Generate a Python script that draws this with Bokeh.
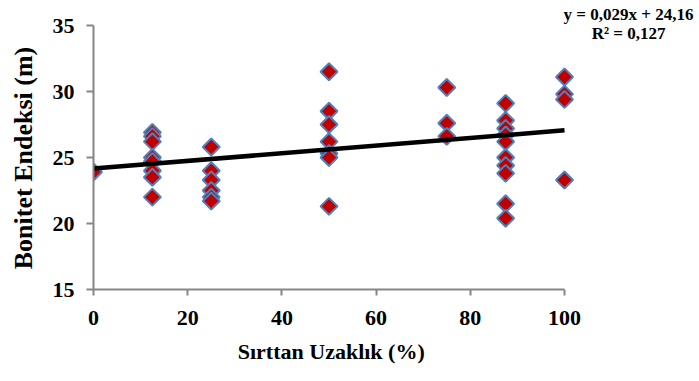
import numpy as np
from bokeh.plotting import figure
from bokeh.models import Range1d, FixedTicker
from bokeh.core.properties import value
from bokeh.embed import file_html
from bokeh.resources import INLINE

# Data
x_vals = [0,
          12.5, 12.5, 12.5, 12.5, 12.5, 12.5, 12.5, 12.5,
          25, 25, 25, 25, 25, 25,
          50, 50, 50, 50, 50, 50, 50,
          75, 75, 75,
          87.5, 87.5, 87.5, 87.5, 87.5, 87.5, 87.5, 87.5, 87.5, 87.5,
          100, 100, 100, 100]
y_vals = [23.9,
          26.9, 26.6, 26.2, 25.0, 24.7, 24.0, 23.5, 22.0,
          25.8, 24.0, 23.3, 22.5, 22.0, 21.7,
          31.5, 28.5, 27.5, 26.2, 25.3, 25.0, 21.3,
          30.3, 27.6, 26.6,
          29.1, 27.8, 27.2, 26.7, 26.2, 25.0, 24.4, 23.8, 21.5, 20.4,
          31.1, 29.8, 29.4, 23.3]
trend_slope = 0.029
trend_intercept = 24.16
trend_x = [0, 100]
x_ticks = [0, 20, 40, 60, 80, 100]
y_ticks = [15, 20, 25, 30, 35]
eq_lines = ["y = 0,029x + 24,16", "R² = 0,127"]
x_title = "Sırttan Uzaklık (%)"
y_title = "Bonitet Endeksi (m)"

FONT = "Liberation Serif"
AX = "#868686"
NBSP = "\u00a0"

# plot-area geometry (pixels)
LEFT, RIGHT_PAD, BOTTOM = 93, 4, 92
X_PX = 4.71    # pixels per x unit
Y_PX = 13.2    # pixels per y unit
frame_w = 699 - LEFT - RIGHT_PAD
frame_h = 381 - BOTTOM

p = figure(width=699, height=381, output_backend="svg", toolbar_location=None,
           title=None,
           x_range=Range1d(0, frame_w / X_PX), y_range=Range1d(15, 15 + frame_h / Y_PX),
           min_border_left=LEFT, min_border_right=RIGHT_PAD, min_border_top=0,
           min_border_bottom=BOTTOM)
p.outline_line_color = None
p.xgrid.visible = False
p.ygrid.visible = False
p.background_fill_color = "white"

for ax in (p.xaxis[0], p.yaxis[0]):
    ax.axis_line_color = AX
    ax.axis_line_width = 2
    ax.major_tick_line_color = AX
    ax.major_tick_line_width = 2
    ax.major_tick_in = 0
    ax.minor_tick_line_color = None
    ax.major_label_text_font = FONT
    ax.major_label_text_font_style = "bold"
    ax.major_label_text_font_size = "22px"
    ax.major_label_text_color = "black"
    ax.axis_label_text_font = FONT
    ax.axis_label_text_font_style = "bold"
    ax.axis_label_text_color = "black"

p.xaxis[0].bounds = (x_ticks[0], x_ticks[-1])
p.yaxis[0].bounds = (y_ticks[0], y_ticks[-1])
p.xaxis[0].axis_label_text_font_size = "22px"
p.yaxis[0].axis_label_text_font_size = "26px"
p.xaxis[0].ticker = FixedTicker(ticks=x_ticks)
p.yaxis[0].ticker = FixedTicker(ticks=y_ticks)
p.xaxis[0].major_tick_out = 6
p.yaxis[0].major_tick_out = 7
p.xaxis[0].major_label_standoff = 15
p.yaxis[0].major_label_standoff = 12
p.xaxis[0].axis_label_standoff = 11
p.yaxis[0].axis_label_standoff = 12
# axis titles are centred on the (wider/taller) frame; pad them so they sit
# centred on the axis lines as in the reference
p.xaxis[0].axis_label = x_title + NBSP * 23
p.yaxis[0].axis_label = y_title + NBSP * 4

p.scatter(x_vals, y_vals, marker="square", size=12, angle=np.pi / 4,
          fill_color="#C00000", line_color="#4F81BD", line_width=2)

trend_y = [trend_slope * x + trend_intercept for x in trend_x]
p.line(trend_x, trend_y, line_color="black", line_width=4.5)

# trendline equation, placed above the top right of the plot
p.text(x=[113.6, 113.6], y=[35 + 11 / Y_PX, 35 - 8 / Y_PX], text=eq_lines,
       text_align="center", text_baseline="alphabetic",
       text_font=value(FONT), text_font_style="bold", text_font_size="17px",
       text_color="black")

open("out.html", "w").write(file_html(p, INLINE))
